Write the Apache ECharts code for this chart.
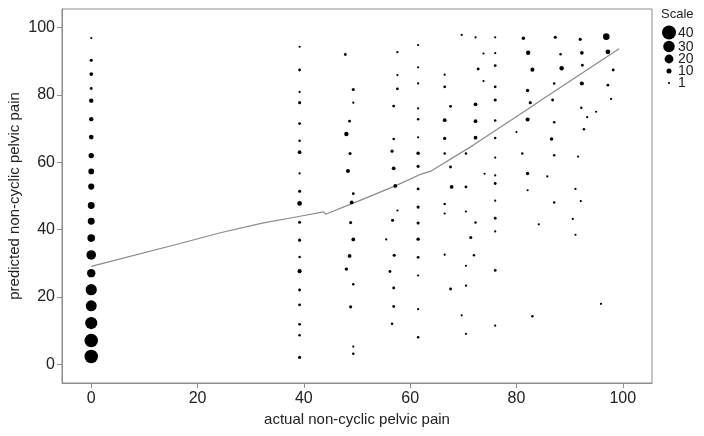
<!DOCTYPE html>
<html>
<head>
<meta charset="utf-8">
<script src="https://cdn.jsdelivr.net/npm/echarts@6/dist/echarts.min.js"></script>
<style>
html,body{margin:0;padding:0;background:#fff;}
#chart{width:704px;height:436px;}
</style>
</head>
<body>
<div id="chart"></div>
<script>
// ---- data: [actual, predicted, count] ----
const col0 = [[0,96.9,1],[0,90.3,4],[0,86.2,6],[0,81.9,3],[0,78.3,8],[0,72.8,8],[0,67.5,9],[0,62.0,11],[0,57.3,12],[0,52.8,13],[0,47.2,15],[0,42.5,15],[0,37.5,17],[0,32.5,23],[0,27.1,19],[0,22.2,29],[0,17.4,28],[0,12.3,33],[0,7.1,38],[0,2.4,38]];
const col39 = [[39.2,94.3,1],[39.2,87.4,3],[39.2,80.9,1],[39.2,77.7,4],[39.2,71.5,3],[39.2,66.4,2],[39.2,63.0,6],[39.2,56.7,1],[39.2,51.4,4],[39.2,47.8,9],[39.2,42.2,4],[39.2,36.9,4],[39.2,31.9,2],[39.2,27.7,7],[39.2,22.1,3],[39.2,17.7,3],[39.2,11.9,3],[39.2,8.7,2],[39.2,2.1,4]];
const col48 = [[47.8,92.0,3],[49.3,81.6,4],[49.3,77.7,1],[48.6,72.2,3],[48.0,68.4,8],[48.7,62.6,4],[48.3,57.4,7],[49.3,50.7,3],[49.0,48.1,6],[48.8,42.1,4],[49.3,37.1,6],[48.6,32.2,6],[48.0,28.3,5],[49.3,23.8,2],[48.8,17.1,4],[49.3,5.3,1],[49.3,3.2,2]];
const col57 = [[57.6,92.7,1],[57.6,85.9,1],[57.6,81.8,3],[56.9,76.7,3],[56.9,66.9,2],[56.6,63.3,4],[56.9,58.2,6],[57.2,53.0,6],[57.6,45.7,1],[56.7,42.8,4],[55.5,37.1,1],[57.0,32.4,4],[56.2,27.6,3],[56.9,22.7,3],[56.9,17.2,3],[56.6,12.1,2]];
const col61 = [[61.5,94.8,1],[61.5,88.2,1],[61.5,83.4,1],[61.5,76.0,1],[61.5,72.8,2],[61.5,67.4,1],[61.5,62.7,5],[61.5,58.8,4],[61.5,52.1,3],[61.5,46.7,4],[61.5,42.0,4],[61.5,37.2,5],[61.5,31.8,3],[61.5,26.4,1],[61.5,16.4,1],[61.5,8.1,2]];
const col66 = [[66.5,86.0,1],[66.5,82.4,3],[67.6,76.6,3],[66.5,72.5,6],[66.5,67.1,4],[66.5,62.6,2],[67.6,58.6,3],[67.8,52.7,6],[66.5,47.6,2],[66.5,44.8,1],[66.5,32.6,1],[67.6,22.4,3]];
const col70 = [[69.7,97.8,1],[70.5,62.6,2],[70.5,52.7,3],[70.5,45.4,1],[70.5,29.3,1],[70.5,23.4,1],[69.7,14.6,1],[70.5,9.1,1],[71.4,37.7,4],[72.0,32.4,2]];
const col72 = [[72.3,97.1,1],[73.8,92.3,1],[72.8,87.7,3],[73.8,84.1,1],[72.3,77.2,6],[72.3,72.2,6],[72.3,67.3,6],[74.0,56.6,1],[72.3,42.1,2]];
const col76 = [[76,97.1,1],[76,92.4,1],[76,88.7,3],[76,82.4,3],[76,78.5,4],[76,72.4,2],[76,67.2,2],[76,61.4,1],[76,56.1,1],[76,53.7,3],[76,48.6,1],[76,43.4,3],[76,39.5,1],[76,27.9,3],[76,11.5,1]];
const col82 = [[81.3,96.8,5],[82.2,92.5,8],[83.0,87.5,7],[82.1,81.3,5],[82.6,77.7,4],[82.1,72.7,7],[80.0,69.0,1],[81.1,62.6,2],[82.1,56.7,5],[82.1,51.7,1],[83.0,14.3,2],[84.2,41.6,1]];
const col87 = [[87.3,97.1,4],[88.3,92.1,2],[88.5,87.9,8],[87.1,83.4,2],[86.8,78.5,3],[87.1,71.9,2],[86.6,66.9,5],[87.1,62.1,2],[85.8,55.8,1],[87.1,48.1,2]];
const col92 = [[92.0,96.5,4],[92.3,92.5,6],[92.4,88.8,3],[92.3,83.4,7],[92.2,76.2,2],[93.3,73.4,1],[92.7,69.8,2],[91.6,61.7,1],[91.1,52.1,1],[92.1,48.5,1],[90.6,43.2,1],[91.1,38.5,1],[95.0,75.0,1],[95.9,18.0,1]];
const col97 = [[96.9,97.3,14],[97.2,92.8,9],[98.2,87.4,3],[97.2,82.9,3],[97.8,78.8,1]];
const fitLine = [[0,29.1],[16.7,35.9],[24.3,39.1],[32.4,42.0],[39.3,44.0],[43.7,45.3],[44.1,44.6],[48.7,47.5],[50.6,48.7],[57.2,53.0],[61.9,56.4],[63.8,57.3],[71.9,65.1],[82.6,76.3],[84.4,78.2],[99.3,93.7]];
const xTicks = [0,20,40,60,80,100];
const yTicks = [0,20,40,60,80,100];
const legendCounts = [40,30,20,10,1];
const xTitle = 'actual non-cyclic pelvic pain';
const yTitle = 'predicted non-cyclic pelvic pain';
const legendTitle = 'Scale';

// ---- size mapping (count -> diameter) ----
const sizeAnchors = [[0,1.6],[1,2.2],[10,5],[20,8.8],[30,11.5],[40,14]];
function sizeOf(c){
  for (let i=1;i<sizeAnchors.length;i++){
    const a=sizeAnchors[i-1], b=sizeAnchors[i];
    if (c<=b[0]) return a[1]+(b[1]-a[1])*(c-a[0])/(b[0]-a[0]);
  }
  return sizeAnchors[sizeAnchors.length-1][1];
}

const allPoints = [].concat(col0,col39,col48,col57,col61,col66,col70,col72,col76,col82,col87,col92,col97);
const FONT = "'Liberation Sans', Arial, sans-serif";
const axisColor = '#8c8c8c';

const chart = echarts.init(document.getElementById('chart'), null, {renderer:'canvas'});
const legendGraphics = [];
legendGraphics.push({type:'text', left:661, top:8, style:{text:legendTitle, font:'13px '+FONT, fill:'#222'}});
legendCounts.forEach((c,i)=>{
  const cy = [32.5,46.5,59,71,83][i];
  const r = sizeOf(c)/2;
  legendGraphics.push({type:'circle', shape:{cx:669, cy:cy, r:r}, style:{fill:'#000'}});
  legendGraphics.push({type:'text', x:678, y:cy+0.5, style:{text:String(c), font:'14px '+FONT, fill:'#222', verticalAlign:'middle', align:'left'}});
});

chart.setOption({
  animation:false,
  backgroundColor:'#fff',
  grid:{left:62, right:52, top:9, bottom:53, outerBoundsMode:'none', containLabel:false,
        show:true, borderColor:axisColor, borderWidth:1, backgroundColor:'transparent'},
  xAxis:{
    type:'value', min:-5.5, max:105.5,
    name:xTitle, nameLocation:'middle', nameGap:29, nameMoveOverlap:false,
    nameTextStyle:{fontFamily:FONT, fontSize:15, color:'#222'},
    axisLine:{show:true, onZero:false, lineStyle:{color:axisColor, width:1}},
    axisTick:{show:true, length:5, lineStyle:{color:axisColor}, customValues:xTicks},
    axisLabel:{fontFamily:FONT, fontSize:16, color:'#222', margin:8, customValues:xTicks},
    splitLine:{show:false}
  },
  yAxis:{
    type:'value', min:-5.5, max:105.5,
    name:yTitle, nameLocation:'middle', nameGap:40, nameRotate:90, nameMoveOverlap:false,
    nameTextStyle:{fontFamily:FONT, fontSize:15, color:'#222'},
    axisLine:{show:true, onZero:false, lineStyle:{color:axisColor, width:1}},
    axisTick:{show:true, length:5, lineStyle:{color:axisColor}, customValues:yTicks},
    axisLabel:{fontFamily:FONT, fontSize:16, color:'#222', margin:7, customValues:yTicks},
    splitLine:{show:false}
  },
  series:[
    {type:'line', data:fitLine, showSymbol:false, symbol:'none', silent:true,
     lineStyle:{color:'#8a8a8a', width:1.2}, z:1},
    {type:'scatter', data:allPoints, symbol:'circle',
     symbolSize:function(v){return sizeOf(v[2]);},
     itemStyle:{color:'#000', opacity:1}, silent:true, z:2}
  ],
  graphic:legendGraphics
});
</script>
</body>
</html>
